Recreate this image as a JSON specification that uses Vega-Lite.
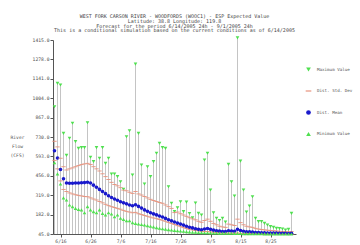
{
  "$schema": "https://vega.github.io/schema/vega-lite/v6.json",
  "autosize": "none",
  "width": 243,
  "height": 194,
  "padding": {"left": 53, "top": 40, "right": 64, "bottom": 11},
  "background": "white",
  "title": {
    "text": ["WEST FORK CARSON RIVER - WOODFORDS (WOOC1) - ESP Expected Value", "Latitude: 38.8    Longitude: 119.8", "Forecast for the period 6/14/2005 24h - 9/1/2005 24h", "This is a conditional simulation based on the current conditions as of 6/14/2005"],
    "font": "DejaVu Sans Mono", "fontSize": 5, "fontWeight": "normal", "color": "#444444",
    "lineHeight": 4.8, "anchor": "middle", "frame": "group", "offset": 3
  },
  "data": {"values": [
    {"date":"2005/06/14","max":944,"min":548,"mean":633,"hi":700,"lo":565},
    {"date":"2005/06/15","max":1109,"min":470,"mean":582,"hi":660,"lo":505},
    {"date":"2005/06/16","max":1097,"min":398,"mean":500,"hi":580,"lo":420},
    {"date":"2005/06/17","max":756,"min":300,"mean":435,"hi":520,"lo":360},
    {"date":"2005/06/18","max":600,"min":285,"mean":405,"hi":497,"lo":345},
    {"date":"2005/06/19","max":721,"min":250,"mean":403,"hi":505,"lo":335},
    {"date":"2005/06/20","max":827,"min":238,"mean":403,"hi":512,"lo":328},
    {"date":"2005/06/21","max":697,"min":226,"mean":405,"hi":520,"lo":322},
    {"date":"2005/06/22","max":650,"min":219,"mean":405,"hi":528,"lo":318},
    {"date":"2005/06/23","max":655,"min":215,"mean":407,"hi":535,"lo":314},
    {"date":"2005/06/24","max":655,"min":195,"mean":408,"hi":540,"lo":310},
    {"date":"2005/06/25","max":831,"min":238,"mean":410,"hi":544,"lo":308},
    {"date":"2005/06/26","max":587,"min":215,"mean":405,"hi":535,"lo":300},
    {"date":"2005/06/27","max":556,"min":203,"mean":390,"hi":520,"lo":292},
    {"date":"2005/06/28","max":655,"min":195,"mean":375,"hi":505,"lo":285},
    {"date":"2005/06/29","max":580,"min":215,"mean":360,"hi":490,"lo":275},
    {"date":"2005/06/30","max":655,"min":191,"mean":345,"hi":470,"lo":265},
    {"date":"2005/07/01","max":544,"min":179,"mean":330,"hi":450,"lo":255},
    {"date":"2005/07/02","max":580,"min":195,"mean":315,"hi":430,"lo":245},
    {"date":"2005/07/03","max":469,"min":186,"mean":303,"hi":410,"lo":238},
    {"date":"2005/07/04","max":469,"min":167,"mean":292,"hi":395,"lo":232},
    {"date":"2005/07/05","max":450,"min":179,"mean":283,"hi":385,"lo":226},
    {"date":"2005/07/06","max":414,"min":156,"mean":273,"hi":372,"lo":220},
    {"date":"2005/07/07","max":361,"min":148,"mean":265,"hi":355,"lo":212},
    {"date":"2005/07/08","max":732,"min":139,"mean":258,"hi":350,"lo":205},
    {"date":"2005/07/09","max":774,"min":139,"mean":250,"hi":340,"lo":200},
    {"date":"2005/07/10","max":462,"min":125,"mean":244,"hi":332,"lo":195},
    {"date":"2005/07/11","max":1245,"min":120,"mean":252,"hi":345,"lo":198},
    {"date":"2005/07/12","max":756,"min":116,"mean":240,"hi":328,"lo":188},
    {"date":"2005/07/13","max":532,"min":112,"mean":228,"hi":320,"lo":182},
    {"date":"2005/07/14","max":398,"min":109,"mean":215,"hi":310,"lo":176},
    {"date":"2005/07/15","max":520,"min":104,"mean":205,"hi":300,"lo":170},
    {"date":"2005/07/16","max":450,"min":100,"mean":195,"hi":290,"lo":164},
    {"date":"2005/07/17","max":556,"min":95,"mean":187,"hi":282,"lo":158},
    {"date":"2005/07/18","max":615,"min":90,"mean":180,"hi":275,"lo":153},
    {"date":"2005/07/19","max":685,"min":86,"mean":172,"hi":268,"lo":148},
    {"date":"2005/07/20","max":655,"min":82,"mean":165,"hi":262,"lo":142},
    {"date":"2005/07/21","max":650,"min":79,"mean":155,"hi":250,"lo":135},
    {"date":"2005/07/22","max":379,"min":76,"mean":146,"hi":238,"lo":127},
    {"date":"2005/07/23","max":262,"min":73,"mean":138,"hi":226,"lo":120},
    {"date":"2005/07/24","max":203,"min":71,"mean":130,"hi":196,"lo":112},
    {"date":"2005/07/25","max":230,"min":68,"mean":122,"hi":200,"lo":104},
    {"date":"2005/07/26","max":273,"min":66,"mean":115,"hi":188,"lo":97},
    {"date":"2005/07/27","max":203,"min":64,"mean":108,"hi":179,"lo":90},
    {"date":"2005/07/28","max":270,"min":62,"mean":100,"hi":170,"lo":84},
    {"date":"2005/07/29","max":190,"min":60,"mean":93,"hi":160,"lo":78},
    {"date":"2005/07/30","max":160,"min":58,"mean":88,"hi":152,"lo":74},
    {"date":"2005/07/31","max":264,"min":57,"mean":82,"hi":145,"lo":70},
    {"date":"2005/08/01","max":191,"min":56,"mean":78,"hi":135,"lo":67},
    {"date":"2005/08/02","max":179,"min":55,"mean":75,"hi":128,"lo":64},
    {"date":"2005/08/03","max":568,"min":54,"mean":80,"hi":140,"lo":62},
    {"date":"2005/08/04","max":615,"min":54,"mean":84,"hi":150,"lo":62},
    {"date":"2005/08/05","max":356,"min":53,"mean":78,"hi":135,"lo":60},
    {"date":"2005/08/06","max":195,"min":52,"mean":72,"hi":120,"lo":57},
    {"date":"2005/08/07","max":156,"min":52,"mean":68,"hi":110,"lo":55},
    {"date":"2005/08/08","max":140,"min":51,"mean":65,"hi":100,"lo":53},
    {"date":"2005/08/09","max":156,"min":51,"mean":63,"hi":95,"lo":52},
    {"date":"2005/08/10","max":130,"min":50,"mean":62,"hi":92,"lo":51},
    {"date":"2005/08/11","max":537,"min":50,"mean":68,"hi":115,"lo":52},
    {"date":"2005/08/12","max":414,"min":50,"mean":66,"hi":110,"lo":51},
    {"date":"2005/08/13","max":313,"min":49,"mean":64,"hi":105,"lo":50},
    {"date":"2005/08/14","max":1430,"min":49,"mean":78,"hi":150,"lo":52},
    {"date":"2005/08/15","max":560,"min":49,"mean":70,"hi":125,"lo":50},
    {"date":"2005/08/16","max":356,"min":48,"mean":64,"hi":110,"lo":49},
    {"date":"2005/08/17","max":200,"min":48,"mean":60,"hi":100,"lo":48},
    {"date":"2005/08/18","max":243,"min":48,"mean":60,"hi":95,"lo":48},
    {"date":"2005/08/19","max":308,"min":47,"mean":58,"hi":92,"lo":47},
    {"date":"2005/08/20","max":156,"min":47,"mean":56,"hi":85,"lo":47},
    {"date":"2005/08/21","max":132,"min":47,"mean":55,"hi":80,"lo":47},
    {"date":"2005/08/22","max":132,"min":47,"mean":54,"hi":77,"lo":47},
    {"date":"2005/08/23","max":120,"min":46,"mean":53,"hi":74,"lo":46},
    {"date":"2005/08/24","max":109,"min":46,"mean":52,"hi":72,"lo":46},
    {"date":"2005/08/25","max":97,"min":46,"mean":52,"hi":70,"lo":46},
    {"date":"2005/08/26","max":92,"min":46,"mean":51,"hi":68,"lo":46},
    {"date":"2005/08/27","max":85,"min":46,"mean":51,"hi":66,"lo":46},
    {"date":"2005/08/28","max":83,"min":45,"mean":50,"hi":64,"lo":45},
    {"date":"2005/08/29","max":80,"min":45,"mean":50,"hi":63,"lo":45},
    {"date":"2005/08/30","max":73,"min":45,"mean":50,"hi":62,"lo":45},
    {"date":"2005/08/31","max":78,"min":45,"mean":49,"hi":61,"lo":45},
    {"date":"2005/09/01","max":191,"min":45,"mean":50,"hi":62,"lo":45}
  ], "format": {"parse": {"date": "date"}}},
  "encoding": {
    "x": {
      "field": "date", "type": "temporal",
      "scale": {"domain": [{"year":2005,"month":6,"date":13,"hours":12},{"year":2005,"month":9,"date":2,"hours":12}]},
      "axis": {
        "title": null,
        "values": [{"year":2005,"month":6,"date":16},{"year":2005,"month":6,"date":26},{"year":2005,"month":7,"date":6},{"year":2005,"month":7,"date":16},{"year":2005,"month":7,"date":26},{"year":2005,"month":8,"date":5},{"year":2005,"month":8,"date":15},{"year":2005,"month":8,"date":25}],
        "format": "%-m/%-d", "grid": false, "labelFlush": false, "labelOverlap": false
      }
    }
  },
  "layer": [
    {
      "mark": {"type": "rule", "color": "#c4c4c4", "strokeWidth": 1},
      "encoding": {
        "y": {"field": "max", "type": "quantitative",
          "scale": {"domain": [45, 1415], "nice": false, "zero": false},
          "axis": {
            "values": [45,182,319,456,593,730,867,1004,1141,1278,1415], "format": ".1f", "grid": false,
            "labelOverlap": false, "labelFlush": false,
            "title": ["River", "Flow", "(CFS)"], "titleAngle": 0, "titleX": -36, "titleY": 97,
            "titleAlign": "center", "titleBaseline": "middle", "titleLineHeight": 9,
            "titleFont": "DejaVu Sans Mono", "titleFontSize": 4.6, "titleFontWeight": "normal", "titleColor": "#555555"
          }
        },
        "y2": {"datum": 45}
      }
    },
    {
      "data": {"values": [{"edge": "right"}]},
      "mark": {"type": "rule", "color": "#bdbdbd", "strokeWidth": 1},
      "encoding": {"x": {"datum": {"year":2005,"month":9,"date":2}, "type": "temporal"}}
    },
    {
      "transform": [{"fold": ["max", "hi", "lo", "mean", "min"], "as": ["key", "value"]}],
      "mark": {"type": "point", "filled": true, "size": 13, "opacity": 1},
      "encoding": {
        "y": {"field": "value", "type": "quantitative",
          "axis": {
            "values": [45,182,319,456,593,730,867,1004,1141,1278,1415], "format": ".1f", "grid": false,
            "labelOverlap": false, "labelFlush": false,
            "title": ["River", "Flow", "(CFS)"], "titleAngle": 0, "titleX": -36, "titleY": 97,
            "titleAlign": "center", "titleBaseline": "middle", "titleLineHeight": 9,
            "titleFont": "DejaVu Sans Mono", "titleFontSize": 4.6, "titleFontWeight": "normal", "titleColor": "#555555"
          }
        },
        "color": {"field": "key", "type": "nominal",
          "scale": {"domain": ["max", "hi", "lo", "mean", "min"], "range": ["#4fe04f", "#e8907a", "#e8907a", "#1a1acc", "#4fe04f"]},
          "legend": {
            "title": null, "orient": "none", "legendX": 252, "legendY": 26,
            "values": ["max", "hi", "mean", "min"],
            "labelExpr": "datum.value == 'max' ? 'Maximum Value' : datum.value == 'hi' ? 'Dist. Std. Dev' : datum.value == 'mean' ? 'Dist. Mean' : 'Minimum Value'",
            "labelFont": "DejaVu Sans Mono", "labelFontSize": 4.2, "labelColor": "#555555",
            "symbolSize": 22, "rowPadding": 15.5, "labelOffset": 5, "labelLimit": 200
          }
        },
        "shape": {"field": "key", "type": "nominal",
          "scale": {"domain": ["max", "hi", "lo", "mean", "min"], "range": ["triangle-down", "M-1.2,-0.25H1.2V0.25H-1.2Z", "M-1.2,-0.25H1.2V0.25H-1.2Z", "circle", "triangle-up"]},
          "legend": {
            "title": null, "orient": "none", "legendX": 252, "legendY": 26,
            "values": ["max", "hi", "mean", "min"],
            "labelExpr": "datum.value == 'max' ? 'Maximum Value' : datum.value == 'hi' ? 'Dist. Std. Dev' : datum.value == 'mean' ? 'Dist. Mean' : 'Minimum Value'",
            "labelFont": "DejaVu Sans Mono", "labelFontSize": 4.2, "labelColor": "#555555",
            "symbolSize": 22, "rowPadding": 15.5, "labelOffset": 5, "labelLimit": 200
          }
        }
      }
    }
  ],
  "config": {
    "view": {"stroke": null},
    "axis": {
      "labelFont": "DejaVu Sans Mono", "labelFontSize": 4.7, "labelColor": "#555555",
      "domainColor": "#555555", "tickColor": "#555555", "tickSize": 3, "labelPadding": 1,
      "labelOverlap": false
    },
    "axisY": {"labelOverlap": false}
  }
}
